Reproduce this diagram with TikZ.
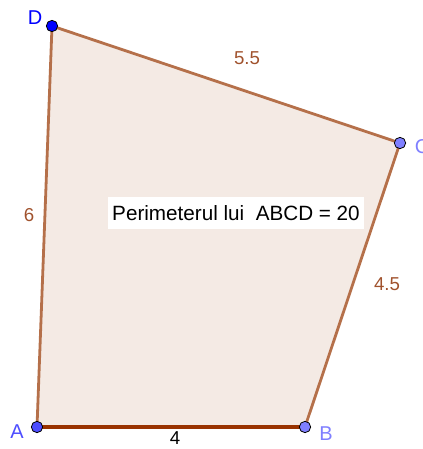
\documentclass[tikz,border=0pt]{standalone}
\usepackage{fontspec}
\setmainfont{Liberation Sans}
\usetikzlibrary{positioning, calc}
\definecolor{latomarrone}{HTML}{B5704A}
\definecolor{latoscuro}{HTML}{993300}
\definecolor{riempimento}{HTML}{F4EAE4}
\definecolor{puntoblu}{HTML}{0000FF}
\definecolor{puntochiaro}{HTML}{7F7FFF}
\definecolor{puntomedio}{HTML}{4D4DFF}
\definecolor{etichetta}{HTML}{A0522D}

\begin{document}
\begin{tikzpicture}[x=0.75pt,y=-0.75pt,
        punto/.style={circle, draw=black, line width=0.6pt, inner sep=0pt, minimum size=8.5pt},
        lato/.style={latomarrone, line width=2.1pt},
        misura/.style={text=etichetta, font=\fontsize{14}{16}\selectfont},
        nome/.style={font=\fontsize{15}{17}\selectfont}]
        \useasboundingbox (0,0) rectangle (423,449);
        %vertici
            \coordinate (a) at (37,427);
            \coordinate (b) at (305,427);
            \coordinate (c) at (400,143);
            \coordinate (d) at (52,26);
        %riempimento
            \fill[riempimento] (a)--(b)--(c)--(d)--cycle;
        %disegno lati
            \draw[lato] (b)--(c);
            \draw[lato] (c)--(d);
            \draw[lato] (d)--(a);
            \draw[latoscuro, line width=2.6pt] (a)--(b);
        %disegno punti
            \node[punto, fill=puntomedio] (A) at (a) {};
            \node[punto, fill=puntochiaro] (B) at (b) {};
            \node[punto, fill=puntochiaro] (C) at (c) {};
            \node[punto, fill=puntoblu] (D) at (d) {};
        %label
            \node[nome, text=puntomedio] (lA) at (17,432) {A};
            \node[nome, text=puntochiaro] (lB) at (326,434) {B};
            \node[nome, text=puntochiaro] (lC) at (422,147) {C};
            \node[nome, text=puntoblu] (lD) at (35,18) {D};

            \node[misura] (mCD) at (247,58) {5.5};
            \node[misura] (mDA) at (29,215) {6};
            \node[misura] (mBC) at (387,284) {4.5};
            \node[font=\fontsize{14}{16}\selectfont] (mAB) at (175,438) {4};

            \node[fill=white, inner xsep=3pt, inner ysep=6pt, font=\fontsize{15.5}{18}\selectfont] (per) at (236,213) {Perimeterul lui\ \ ABCD = 20};
    \end{tikzpicture}
\end{document}
